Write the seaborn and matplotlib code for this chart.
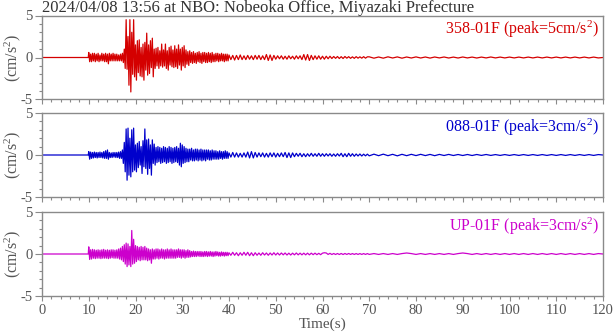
import numpy as np
import pandas as pd
import matplotlib
matplotlib.use("Agg")
import matplotlib.pyplot as plt
import seaborn as sns
from matplotlib.ticker import MultipleLocator

# ---------------- data (cm/s^2) ----------------
title = "2024/04/08 13:56 at NBO: Nobeoka Office, Miyazaki Prefecture"
components = ["358-01F", "088-01F", "UP-01F"]
peaks = [5, 3, 3]
colors = ["#d40000", "#0000cc", "#cc00cc"]

pre_t = [0.0, 9.9]
# segment A: 10.0 .. 39.8 s every 0.2 s ; B: 40 .. 69.6 s every 0.4 s ; C: 70 .. 120 s every 1 s
red_pre = [0.0, 0.0]
red_a = [0.6, -0.5, 0.4, -0.5, 0.5, -0.4, 0.5, -0.5, 0.4, -0.4,
         0.5, -0.5, 0.3, -0.4, 0.5, -0.4, 0.4, -0.5, 0.5, -0.5,
         0.4, -0.75, 0.5, -0.4, 0.4, -0.4, 0.5, -0.4, 0.4, -0.4,
         0.4, -0.4, 0.3, -0.4, 0.4, -0.4,
         0.5, -0.6, 1.0, -1.3, 4.5, -1.4, 2.5, -3.3, 4.5, -4.1,
         3.0, -2.0, 4.5, -2.3, 1.5, -2.7, 2.0, -1.8, 2.1, -2.2,
         1.2, -2.3, 1.6, -2.7, 1.8, -1.5, 2.9, -2.1, 1.5, -1.9,
         2.0, -1.2, 2.3, -2.3, 1.0, -1.3, 1.1, -1.0, 1.2, -1.3,
         0.8, -1.0, 1.6, -1.15, 0.9, -1.0, 1.6, -1.3, 0.8, -1.5,
         1.2, -0.9, 1.35, -1.1, 0.9, -1.2, 1.4, -1.1, 1.0, -1.3,
         1.5, -0.9, 1.0, -1.5, 1.2, -1.0, 1.4, -1.2, 0.9, -0.8,
         0.7, -0.95, 0.8, -0.6, 0.6, -0.7, 0.7, -0.6, 0.5, -0.7,
         0.6, -0.5, 0.7, -0.6, 0.5, -0.7, 0.6, -0.5, 0.6, -0.6,
         0.5, -0.6, 0.6, -0.5, 0.5, -0.6, 0.6, -0.5, 0.4, -0.5,
         0.5, -0.4, 0.5, -0.5, 0.4, -0.4, 0.5, -0.4, 0.4, -0.5,
         0.4, -0.4, 0.4, -0.4]
red_b = [0.3, -0.25, 0.25, -0.3, 0.25, -0.25, 0.3, -0.25, 0.2, -0.25,
         0.25, -0.2, 0.2, -0.25, 0.25, -0.2, 0.25, -0.25, 0.2, -0.25,
         0.35, -0.35, 0.3, -0.35, 0.25,
         -0.2, 0.2, -0.15, 0.2, -0.2, 0.15, -0.2, 0.2, -0.15, 0.15,
         -0.2, 0.2, -0.15, 0.2, -0.25,
         0.35, -0.3, 0.35, -0.35, 0.25,
         -0.25, 0.2, -0.2, 0.2, -0.2, 0.15, -0.2, 0.15, -0.15, 0.15,
         -0.12, 0.12, -0.1, 0.12, -0.12, 0.1, -0.12, 0.12, -0.08, 0.1,
         -0.1, 0.08, -0.1, 0.1, -0.08, 0.08, -0.08, 0.1, -0.08, 0.08]
red_c = [0.08, -0.08, 0.06, -0.08, 0.08, -0.06, 0.07, -0.08, 0.06, -0.06,
         0.07, -0.06, 0.06, -0.07, 0.06, -0.05, 0.06, -0.06, 0.05, -0.06,
         0.06, -0.05, 0.05, -0.06, 0.05, -0.05, 0.06, -0.05, 0.05, -0.05,
         0.05, -0.05, 0.05, -0.05, 0.05, -0.05, 0.05, -0.05, 0.05, -0.05,
         0.05, -0.05, 0.05, -0.05, 0.05, -0.05, 0.05, -0.05, 0.05, -0.05, 0.0]

blue_pre = [0.0, 0.0]
blue_a = [0.4, -0.5, 0.35, -0.4, 0.3, -0.35, 0.35, -0.3, 0.3, -0.35,
          0.3, -0.3, 0.35, -0.3, 0.3, -0.35, 0.4, -0.4, 0.5, -0.4,
          0.6, -0.5, 0.3, -0.3, 0.25, -0.3, 0.3, -0.25, 0.3, -0.3,
          0.3, -0.3, 0.35, -0.4, 0.4, -0.4,
          0.6, -1.0, 1.5, -2.0, 3.1, -3.0, 3.2, -2.4, 2.0, -2.6,
          3.0, -2.0, 3.2, -1.8, 1.2, -2.0, 1.4, -1.5, 1.6, -1.2,
          1.0, -2.2, 1.7, -1.4, 3.1, -1.6, 1.8, -2.3, 1.9, -1.6,
          1.2, -2.4, 1.8, -1.0, 1.3, -1.2, 0.9, -0.9, 1.0, -0.8,
          0.9, -1.0, 0.8, -0.9, 1.0, -0.8, 0.9, -1.0, 0.8, -0.9,
          1.0, -0.8, 0.9, -1.0, 0.8, -0.9, 0.9, -0.8, 1.0, -0.9,
          0.8, -1.2, 1.4, -1.4, 1.2, -1.0, 1.0, -0.9, 0.8, -0.8,
          0.7, -0.8, 0.7, -0.6, 0.8, -0.7, 0.6, -0.7, 0.7, -0.6,
          0.7, -0.7, 0.6, -0.6, 0.7, -0.7, 0.6, -0.6, 0.6, -0.7,
          0.6, -0.5, 0.6, -0.6, 0.5, -0.6, 0.6, -0.5, 0.5, -0.5,
          0.5, -0.5, 0.4, -0.5, 0.5, -0.4, 0.4, -0.5, 0.4, -0.4,
          0.5, -0.4, 0.4, -0.4]
blue_b = [0.25, -0.25, 0.3, -0.25, 0.25, -0.25, 0.2, -0.25, 0.25, -0.25,
          0.35, -0.35, 0.4, -0.35, 0.3,
          -0.25, 0.25, -0.2, 0.25, -0.25, 0.2, -0.25, 0.25, -0.2, 0.25,
          -0.25, 0.2, -0.2, 0.25, -0.2,
          0.3, -0.3, 0.25, -0.3, 0.25,
          -0.2, 0.2, -0.15, 0.2, -0.2, 0.15, -0.2, 0.15, -0.15, 0.2,
          -0.15, 0.15, -0.15, 0.2, -0.15, 0.15, -0.15, 0.15, -0.12, 0.15,
          -0.15, 0.12, -0.15, 0.15, -0.12,
          0.2, -0.2, 0.15, -0.2, 0.2, -0.15, 0.15, -0.15, 0.12, -0.12,
          0.12, -0.12, 0.1, -0.1, 0.1]
blue_c = [-0.1, 0.1, -0.08, 0.1, -0.08, 0.08, -0.1, 0.08, -0.08, 0.08,
          -0.07, 0.08, -0.07, 0.07, -0.08, 0.07, -0.06, 0.07, -0.06, 0.06,
          -0.06, 0.06, -0.06, 0.06, -0.05, 0.06, -0.05, 0.05, -0.05, 0.05,
          -0.05, 0.05, -0.05, 0.05, -0.05, 0.05, -0.05, 0.05, -0.05, 0.05,
          -0.05, 0.05, -0.05, 0.05, -0.05, 0.05, -0.05, 0.05, -0.05, 0.05, 0.0]

mag_pre = [0.0, 0.0]
mag_a = [0.85, -0.65, 0.5, -0.6, 0.55, -0.5, 0.5, -0.55, 0.45, -0.5,
         0.5, -0.5, 0.45, -0.55, 0.5, -0.5, 0.55, -0.5, 0.45, -0.5,
         0.5, -0.55, 0.45, -0.5, 0.5, -0.45, 0.5, -0.5, 0.45, -0.5,
         0.5, -0.5, 0.6, -0.6, 0.7, -0.7,
         0.9, -0.9, 1.1, -1.2, 1.3, -1.5, 1.2, -1.3, 0.9, -1.5, 2.8, -1.2,
         1.75, -1.1, 1.0, -0.9, 0.9, -0.7, 0.8, -0.8, 0.9, -0.7,
         0.8, -0.7, 0.9, -0.7, 0.7, -0.8,
         0.6, -0.7, 0.5, -1.1, 0.6, -0.6, 0.5, -0.6, 0.6, -0.5,
         0.6, -0.6, 0.5, -0.5, 0.6, -0.5, 0.5, -0.6, 0.5, -0.5,
         0.6, -0.5, 0.5, -0.5, 0.6, -0.5, 0.5, -0.5, 0.5, -0.5,
         0.5, -0.4, 0.6, -0.4, 0.5, -0.5,
         0.5, -0.4, 0.5, -0.5, 0.4, -0.4, 0.5, -0.4, 0.4, -0.35,
         0.3, -0.3, 0.35, -0.3, 0.3, -0.3, 0.3, -0.25, 0.3, -0.3,
         0.3, -0.3, 0.25, -0.3, 0.3, -0.25, 0.3, -0.3, 0.25, -0.25,
         0.3, -0.25, 0.25, -0.3, 0.25, -0.25, 0.3, -0.2, 0.25, -0.25,
         0.2, -0.25, 0.25, -0.2, 0.2, -0.25, 0.2, -0.2, 0.2, -0.2]
mag_b = [0.15, -0.15, 0.2, -0.15, 0.15, -0.2, 0.15, -0.15, 0.2, -0.15,
         0.2, -0.2, 0.15, -0.2, 0.15,
         -0.15, 0.12, -0.15, 0.15, -0.12, 0.12, -0.15, 0.12, -0.12, 0.15,
         -0.12, 0.12, -0.12, 0.12, -0.1, 0.12, -0.12, 0.1, -0.12, 0.1,
         -0.1, 0.12, -0.1, 0.1, -0.1, 0.1, -0.1, 0.1, -0.1, 0.1,
         -0.08, 0.1, -0.08, 0.08, -0.08,
         0.1, 0.15, 0.12, -0.05, 0.08, -0.06, 0.06, -0.06, 0.06, -0.06,
         0.06, -0.06, 0.06, -0.05, 0.06, -0.05, 0.05, -0.05, 0.05, -0.05,
         0.05, -0.05, 0.05, -0.05, 0.05]
mag_c = [-0.05, 0.05, -0.05, 0.05, -0.05, 0.05, -0.05, 0.05, 0.12, 0.05,
         -0.05, 0.05, -0.05, 0.05, -0.05, 0.05, -0.05, 0.05, -0.05, 0.05,
         0.12, 0.05, -0.05, 0.05, -0.05, 0.05, -0.05, 0.05, -0.05, 0.05,
         -0.05, 0.05, -0.05, 0.05, -0.05, 0.05, -0.05, 0.05, -0.05, 0.05,
         -0.05, 0.05, -0.05, 0.05, -0.05, 0.05, -0.05, 0.05, -0.05, 0.05, 0.0]

series = [(red_pre, red_a, red_b, red_c),
          (blue_pre, blue_a, blue_b, blue_c),
          (mag_pre, mag_a, mag_b, mag_c)]


def build(pre, a, b, c):
    t = np.concatenate([pre_t,
                        10.0 + 0.2 * np.arange(len(a)),
                        40.0 + 0.4 * np.arange(len(b)),
                        70.0 + 1.0 * np.arange(len(c))])
    v = np.concatenate([pre, a, b, c])
    return pd.DataFrame({"time": t, "acc": v})


# ---------------- style ----------------
sns.set_theme(style="ticks")
plt.rcParams['font.family'] = ['Liberation Serif', 'DejaVu Serif']
plt.rcParams['axes.unicode_minus'] = False

W, H = 616, 334
fig = plt.figure(figsize=(W / 100, H / 100), dpi=100)
left = 42 / W
width = (603 - 42) / W
tops = [15.5, 113, 212]
ph = 84

grey_txt = "#555555"
grey_ax = "#8a8a8a"
fs = 11.5
fs_tick = 10.5

for i, (comp, pk, col, s) in enumerate(zip(components, peaks, colors, series)):
    bottom = 1 - (tops[i] + ph) / H
    ax = fig.add_axes([left, bottom, width, ph / H])
    df = build(*s)
    sns.lineplot(data=df, x="time", y="acc", ax=ax, color=col, lw=0.9,
                 estimator=None, sort=False)
    ax.set_xlim(0, 120)
    ax.set_ylim(-5, 5)
    ax.xaxis.set_major_locator(MultipleLocator(10))
    ax.xaxis.set_minor_locator(MultipleLocator(2))
    ax.yaxis.set_major_locator(MultipleLocator(5))
    ax.yaxis.set_minor_locator(MultipleLocator(1))
    for sp in ax.spines.values():
        sp.set_visible(True)
        sp.set_color(grey_ax)
        sp.set_linewidth(1.0)
    ax.tick_params(axis="both", which="both", direction="out", color=grey_ax,
                   labelcolor=grey_txt, labelsize=fs_tick, width=0.8)
    ax.tick_params(axis="y", which="major", length=5, pad=2)
    ax.tick_params(axis="y", which="minor", length=2.5)
    ax.tick_params(axis="x", which="major", length=3.5, pad=2.5)
    ax.tick_params(axis="x", which="minor", length=2)
    ax.set_ylabel("(cm/s$\\mathregular{^2}$)", color=grey_txt, fontsize=fs)
    ax.yaxis.set_label_coords(-0.033, 0.5)
    if i < 2:
        ax.tick_params(axis="x", labelbottom=False)
        ax.set_xlabel("")
    else:
        ax.set_xlabel("Time(s)", color=grey_txt, fontsize=fs_tick + 0.5,
                      labelpad=0)
    ax.text(0.993, 0.96, f"{comp} (peak={pk}cm/s$\\mathregular{{^2}}$)",
            transform=ax.transAxes, ha="right", va="top", color=col,
            fontsize=fs)

fig.text(42 / W, 1 - 8 / H, title, ha="left", va="center",
         color="#333333", fontsize=12)

fig.savefig("out.png", dpi=100)
